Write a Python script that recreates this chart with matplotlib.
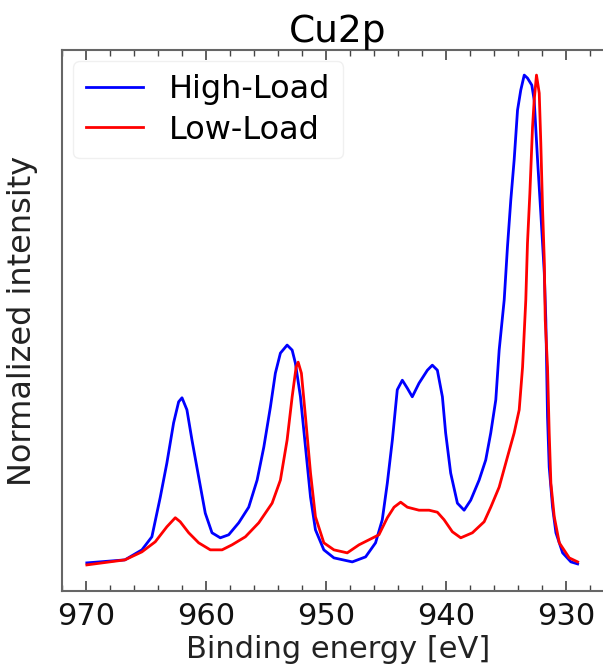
import matplotlib
matplotlib.use("Agg")
import matplotlib.pyplot as plt
import matplotlib.ticker as mtick

# Cu2p spectra (binding energy in eV, normalized intensity)
e_high = [969.93, 966.76, 965.34, 964.51, 963.81, 963.26, 962.70, 962.28, 962.00, 961.59,
          961.17, 960.61, 960.06, 959.50, 958.81, 958.11, 957.27, 956.44, 955.74, 955.18,
          954.63, 954.22, 953.80, 953.24, 952.82, 952.55, 952.13, 951.71, 951.29, 950.88,
          950.18, 949.34, 947.81, 946.70, 945.87, 945.31, 944.89, 944.47, 944.06, 943.64,
          943.22, 942.81, 942.25, 941.55, 941.14, 940.72, 940.30, 940.03, 939.61, 939.05,
          938.49, 937.94, 937.24, 936.69, 936.27, 935.85, 935.57, 935.15, 934.88, 934.60,
          934.32, 934.04, 933.77, 933.48, 933.21, 932.85, 932.65, 932.37, 932.10, 931.81,
          931.68, 931.54, 931.40, 931.12, 930.84, 930.28, 929.59, 929.03]
i_high = [0.028, 0.034, 0.054, 0.080, 0.159, 0.227, 0.307, 0.349, 0.357, 0.333,
          0.273, 0.199, 0.127, 0.088, 0.078, 0.084, 0.108, 0.139, 0.193, 0.259,
          0.339, 0.406, 0.446, 0.462, 0.452, 0.426, 0.359, 0.259, 0.159, 0.094,
          0.054, 0.038, 0.030, 0.040, 0.068, 0.114, 0.187, 0.273, 0.373, 0.392,
          0.376, 0.359, 0.386, 0.412, 0.422, 0.412, 0.359, 0.287, 0.207, 0.147,
          0.133, 0.153, 0.193, 0.233, 0.287, 0.353, 0.452, 0.552, 0.657, 0.751,
          0.831, 0.930, 0.970, 1.000, 0.994, 0.980, 0.950, 0.831, 0.725, 0.606,
          0.512, 0.319, 0.219, 0.139, 0.088, 0.048, 0.030, 0.026]

e_low = [969.93, 966.76, 965.34, 964.23, 963.26, 962.56, 962.15, 961.44, 960.61, 959.64,
         958.66, 957.83, 956.72, 955.60, 954.49, 953.80, 953.24, 952.82, 952.49, 952.32,
         952.05, 951.71, 951.29, 950.88, 950.18, 949.34, 948.23, 947.25, 946.42, 945.59,
         944.89, 944.33, 943.78, 943.22, 942.25, 941.41, 940.72, 940.16, 939.47, 938.77,
         937.80, 936.82, 936.27, 935.57, 934.88, 934.32, 933.90, 933.62, 933.35, 933.21,
         933.01, 932.79, 932.65, 932.46, 932.23, 932.10, 931.95, 931.81, 931.73, 931.54,
         931.40, 931.26, 930.98, 930.56, 929.73, 929.03]
i_low = [0.024, 0.034, 0.050, 0.070, 0.100, 0.118, 0.110, 0.088, 0.068, 0.054,
         0.054, 0.064, 0.080, 0.108, 0.147, 0.193, 0.273, 0.359, 0.418, 0.428,
         0.406, 0.319, 0.207, 0.120, 0.068, 0.054, 0.048, 0.064, 0.074, 0.084,
         0.118, 0.139, 0.149, 0.139, 0.133, 0.133, 0.129, 0.114, 0.090, 0.078,
         0.088, 0.110, 0.139, 0.179, 0.239, 0.287, 0.333, 0.418, 0.552, 0.665,
         0.765, 0.896, 0.950, 1.000, 0.964, 0.865, 0.731, 0.631, 0.512, 0.418,
         0.287, 0.187, 0.120, 0.068, 0.038, 0.030]

xticks = [970, 960, 950, 940, 930]

fig = plt.figure(figsize=(6.03, 6.68), dpi=100)
ax = fig.add_axes([62/603, 1-591/668, 552/603, 541/668])

ax.plot(e_high, i_high, color='blue', lw=2, label='High-Load')
ax.plot(e_low, i_low, color='red', lw=2, label='Low-Load')

ax.set_xlim(972, 926)
ax.set_ylim(-0.028, 1.05)
ax.set_xticks(xticks)
ax.xaxis.set_minor_locator(mtick.MultipleLocator(2))
ax.set_yticks([])
ax.tick_params(axis='x', which='both', direction='in', top=True, labelsize=22,
               colors='#444444', labelcolor='#111111')
ax.tick_params(axis='x', which='major', length=7, width=1.2, pad=8)
ax.tick_params(axis='x', which='minor', length=4, width=1)
for s in ax.spines.values():
    s.set_color('#666666')
    s.set_linewidth(1.5)
ax.spines['right'].set_visible(False)

ax.set_xlabel('Binding energy [eV]', fontsize=22, color='#222222', labelpad=3)
ax.set_ylabel('Normalized intensity', fontsize=23, color='#222222', labelpad=17)
ax.set_title('Cu2p', fontsize=27, pad=4)
leg = ax.legend(loc='upper left', fontsize=23, handlelength=1.8, handletextpad=0.8,
                borderpad=0.4, borderaxespad=0.35, labelspacing=0.3, framealpha=1)
leg.get_frame().set_edgecolor('#f0f0f0')

plt.savefig('out.png', dpi=100)
